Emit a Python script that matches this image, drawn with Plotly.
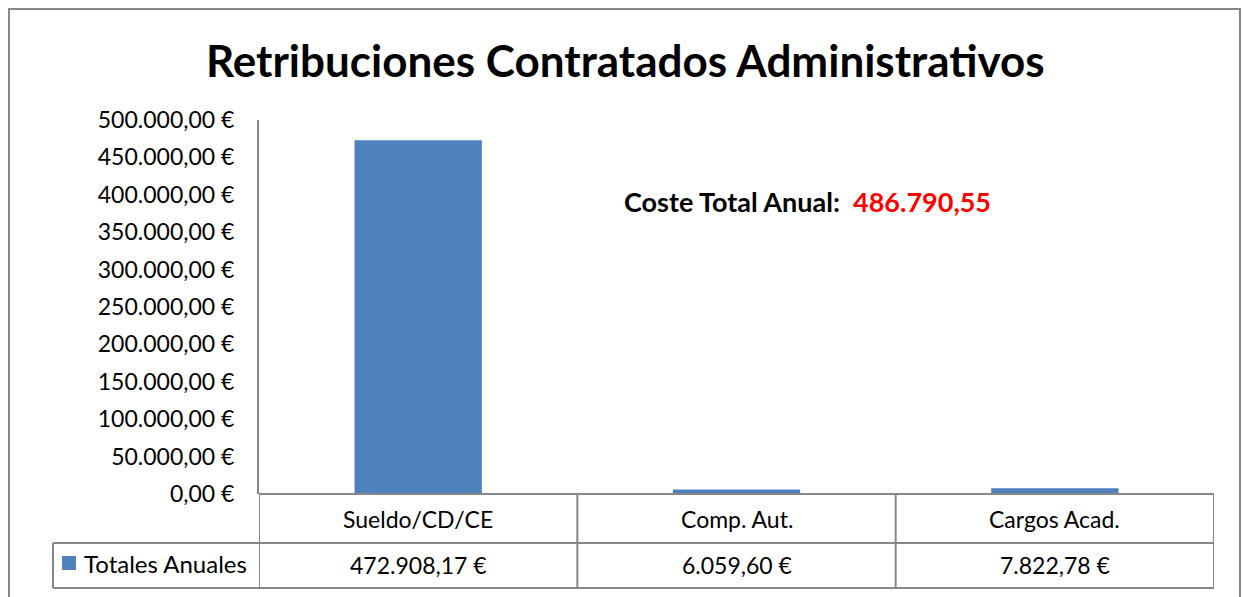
import plotly.graph_objects as go

categories = ["Sueldo/CD/CE", "Comp. Aut.", "Cargos Acad."]
values = [472908.17, 6059.60, 7822.78]
series_name = "Totales Anuales"
title = "Retribuciones Contratados Administrativos"
total_label = "Coste Total Anual:"
y_ticks = [0, 50000, 100000, 150000, 200000, 250000, 300000, 350000, 400000, 450000, 500000]


def fmt_es(v):
    s = f"{v:,.2f}"
    return s.replace(",", "X").replace(".", ",").replace("X", ".")


W, H = 1243, 597
FONT = "Lato"
BAR = "#4F81BD"
GRID = "#878787"


def px(x):
    return x / W


def py(y):
    return (H - y) / H


fig = go.Figure()
fig.add_trace(go.Bar(
    x=categories, y=values, name=series_name,
    marker=dict(color=BAR, line=dict(width=0)), width=0.4,
    showlegend=False,
))

fig.update_layout(
    template="none",
    autosize=False,
    width=W, height=H,
    margin=dict(l=0, r=0, t=0, b=0, pad=0, autoexpand=False),
    paper_bgcolor="white", plot_bgcolor="white",
    font=dict(family=FONT, size=23, color="black"),
    showlegend=False,
    xaxis=dict(domain=[px(259), px(1214)], range=[-0.5, 2.5], showticklabels=False,
               showline=False, showgrid=False, zeroline=False, ticks="", automargin=False),
    yaxis=dict(domain=[py(494), py(120)], range=[0, 500000], tickvals=y_ticks,
               ticktext=[fmt_es(v) + " €" for v in y_ticks],
               showline=True, linecolor=GRID, linewidth=2, showgrid=False, zeroline=False,
               ticks="", ticklabelstandoff=18, automargin=False,
               tickfont=dict(family=FONT, size=23)),
)

shapes = []
# outer frame
shapes.append(dict(type="rect", xref="paper", yref="paper", x0=px(9), x1=px(1240), y0=py(640), y1=py(9),
                   line=dict(color=GRID, width=2)))
# table horizontal lines
row_top, row_mid, row_bot = 494, 543, 588
for yy, x0 in [(row_top, 259), (row_mid, 53), (row_bot, 53)]:
    shapes.append(dict(type="line", xref="paper", yref="paper", x0=px(x0), x1=px(1214),
                       y0=py(yy), y1=py(yy), line=dict(color=GRID, width=2)))
# table vertical lines at category boundaries
for b in [-0.5, 0.5, 1.5, 2.5]:
    shapes.append(dict(type="line", xref="x", yref="paper", x0=b, x1=b,
                       y0=py(row_bot), y1=py(row_top), line=dict(color=GRID, width=2)))
# legend cell left edge
shapes.append(dict(type="line", xref="paper", yref="paper", x0=px(53), x1=px(53),
                   y0=py(row_bot), y1=py(row_mid), line=dict(color=GRID, width=2)))
# legend key
shapes.append(dict(type="rect", xref="paper", yref="paper", x0=px(62), x1=px(76),
                   y0=py(570), y1=py(556), fillcolor=BAR, line=dict(width=0)))

annotations = []
annotations.append(dict(text=f"<b>{title}</b>", xref="paper", yref="paper", x=px(625), y=py(60),
                        showarrow=False, font=dict(family=FONT, size=44, color="black"),
                        xanchor="center", yanchor="middle"))
total = sum(values)
annotations.append(dict(
    text=f"<b>{total_label}&nbsp;&nbsp;<span style='color:#FF0000'>{fmt_es(total)}</span></b>",
    xref="paper", yref="paper", x=px(807), y=py(201), showarrow=False,
    font=dict(family=FONT, size=27, color="black"), xanchor="center", yanchor="middle"))
for c, v in zip(categories, values):
    annotations.append(dict(text=c, xref="x", yref="paper", x=c, y=py(519), showarrow=False,
                            font=dict(family=FONT, size=23), xanchor="center", yanchor="middle"))
    annotations.append(dict(text=fmt_es(v) + " €", xref="x", yref="paper", x=c, y=py(565),
                            showarrow=False, font=dict(family=FONT, size=23),
                            xanchor="center", yanchor="middle"))
annotations.append(dict(text=series_name, xref="paper", yref="paper", x=px(82), y=py(563),
                        showarrow=False, font=dict(family=FONT, size=24),
                        xanchor="left", yanchor="middle"))

fig.update_layout(shapes=shapes, annotations=annotations)
fig.write_html("out.html", config={"displayModeBar": False},
               post_script="document.body.style.margin='0';")
